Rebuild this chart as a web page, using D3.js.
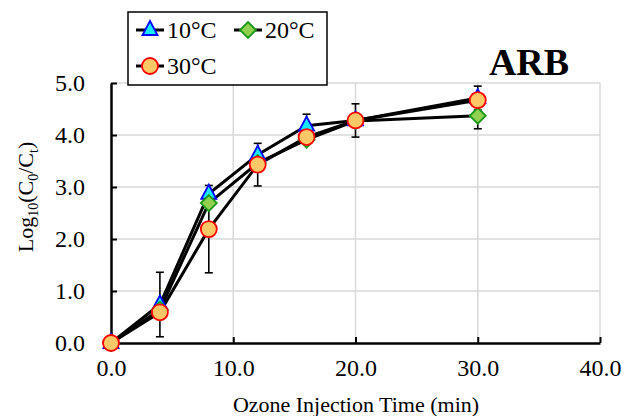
<!DOCTYPE html>
<html>
<head>
<meta charset="utf-8">
<script src="https://cdn.jsdelivr.net/npm/d3@7"></script>
<style>
  body { margin: 0; background: #fff; }
  svg text { font-family: "Liberation Serif", serif !important; fill: #000; }
</style>
</head>
<body>
<div id="chart"></div>
<script>
// data
const times = [0, 4, 8, 12, 16, 20, 30];
const log10C = [0, 0.74, 2.87, 3.62, 4.18, 4.28, 4.71];
const log20C = [0, 0.64, 2.69, 3.46, 3.91, 4.27, 4.37];
const log30C = [0, 0.59, 2.19, 3.43, 3.96, 4.28, 4.67];
const err10C = [0, 0.62, 0, 0, 0.22, 0, 0.23];
const err20C = [0, 0, 0, 0, 0, 0, 0.25];
const err30C = [0, 0, 0.84, 0.41, 0, 0.32, 0];
const xTicks = [0, 10, 20, 30, 40];
const yTicks = [0, 1, 2, 3, 4, 5];

const width = 631, height = 416;
const FONT = "'Liberation Serif', serif";
const svg = d3.select("#chart").append("svg")
  .attr("width", width).attr("height", height)
  .attr("font-family", FONT);

const x = d3.scaleLinear().domain([0, 40]).range([111, 600]);
const y = d3.scaleLinear().domain([0, 5]).range([343, 83]);

const series = [
  { name: "10°C", vals: log10C, err: err10C, shape: "tri", fill: "#19e6ff", stroke: "#0000ff" },
  { name: "20°C", vals: log20C, err: err20C, shape: "dia", fill: "#92d050", stroke: "#1a9a1a" },
  { name: "30°C", vals: log30C, err: err30C, shape: "cir", fill: "#ffc866", stroke: "#ff0000" }
];

// gridlines
svg.append("g").selectAll("line").data(yTicks.slice(1)).enter().append("line")
  .attr("x1", x(0)).attr("x2", x(40))
  .attr("y1", d => y(d)).attr("y2", d => y(d))
  .attr("stroke", "#d9d9d9").attr("stroke-width", 1.5);
svg.append("g").selectAll("line").data(xTicks.slice(1)).enter().append("line")
  .attr("x1", d => x(d)).attr("x2", d => x(d))
  .attr("y1", y(0)).attr("y2", y(5))
  .attr("stroke", "#d9d9d9").attr("stroke-width", 1.5);

// axes (ticks inside)
const xAxis = svg.append("g").attr("transform", `translate(0,${y(0)})`)
  .call(d3.axisBottom(x).tickValues(xTicks).tickSizeInner(-6).tickSizeOuter(0).tickFormat(d3.format(".1f")));
const yAxis = svg.append("g").attr("transform", `translate(${x(0)},0)`)
  .call(d3.axisLeft(y).tickValues(yTicks).tickSizeInner(-6).tickSizeOuter(0).tickFormat(d3.format(".1f")));
[xAxis, yAxis].forEach(a => {
  a.attr("font-family", FONT).attr("font-size", 24);
  a.select(".domain").attr("stroke", "#000").attr("stroke-width", 2.5);
  a.selectAll(".tick line").attr("stroke", "#000").attr("stroke-width", 2);
  a.selectAll(".tick text").attr("font-size", 24).attr("font-family", FONT);
});
xAxis.selectAll(".tick text").attr("dy", "0.71em").attr("y", 16);
yAxis.selectAll(".tick text").attr("x", -26);

// axis titles
svg.append("text").attr("x", 356).attr("y", 412).attr("text-anchor", "middle")
  .attr("font-size", 22).text("Ozone Injection Time (min)");

const yt = svg.append("text").attr("transform", "translate(33,197) rotate(-90)")
  .attr("text-anchor", "middle").attr("font-size", 22);
yt.append("tspan").text("Log");
yt.append("tspan").attr("font-size", 14).attr("dy", 5).text("10");
yt.append("tspan").attr("dy", -5).text("(C");
yt.append("tspan").attr("font-size", 14).attr("dy", 5).text("0");
yt.append("tspan").attr("dy", -5).text("/C");
yt.append("tspan").attr("font-size", 14).attr("dy", 5).text("t");
yt.append("tspan").attr("dy", -5).text(")");

// ARB label
svg.append("text").attr("x", 529).attr("y", 75).attr("text-anchor", "middle")
  .attr("font-size", 38).attr("font-weight", "bold").text("ARB");

function marker(g, shape, fill, stroke) {
  if (shape === "cir") {
    g.append("circle").attr("r", 8);
  } else if (shape === "tri") {
    g.append("path").attr("d", "M0,-9L7.5,5L-7.5,5Z");
  } else {
    g.append("path").attr("d", "M0,-8L8,0L0,8L-8,0Z");
  }
  g.selectAll("circle,path").attr("fill", fill).attr("stroke", stroke).attr("stroke-width", 1.8);
}

// error bars
series.forEach(s => {
  const pts = times.map((t, i) => ({ t, v: s.vals[i], e: s.err[i] })).filter(p => p.e > 0);
  const g = svg.append("g").attr("stroke", "#000").attr("stroke-width", 1.6);
  pts.forEach(p => {
    g.append("line").attr("x1", x(p.t)).attr("x2", x(p.t))
      .attr("y1", y(p.v - p.e)).attr("y2", y(p.v + p.e));
    [p.v - p.e, p.v + p.e].forEach(v => {
      g.append("line").attr("x1", x(p.t) - 4).attr("x2", x(p.t) + 4)
        .attr("y1", y(v)).attr("y2", y(v));
    });
  });
});

// lines
const line = d3.line().x((d, i) => x(times[i])).y(d => y(d));
series.forEach(s => {
  svg.append("path").datum(s.vals).attr("d", line)
    .attr("fill", "none").attr("stroke", "#000").attr("stroke-width", 3);
});

// markers
series.forEach(s => {
  s.vals.forEach((v, i) => {
    const g = svg.append("g").attr("transform", `translate(${x(times[i])},${y(v)})`);
    marker(g, s.shape, s.fill, s.stroke);
  });
});

// legend
const lg = svg.append("g");
lg.append("rect").attr("x", 128).attr("y", 12).attr("width", 199).attr("height", 73)
  .attr("fill", "#fff").attr("stroke", "#000").attr("stroke-width", 1.5);
const legPos = [[150, 30], [248, 30], [150, 66]];
series.forEach((s, i) => {
  const [cx, cy] = legPos[i];
  lg.append("line").attr("x1", cx - 14).attr("x2", cx + 14).attr("y1", cy).attr("y2", cy)
    .attr("stroke", "#000").attr("stroke-width", 3);
  const g = lg.append("g").attr("transform", `translate(${cx},${cy})`);
  marker(g, s.shape, s.fill, s.stroke);
  lg.append("text").attr("x", cx + 17).attr("y", cy).attr("dy", "0.35em")
    .attr("font-size", 24).text(s.name);
});
</script>
</body>
</html>
